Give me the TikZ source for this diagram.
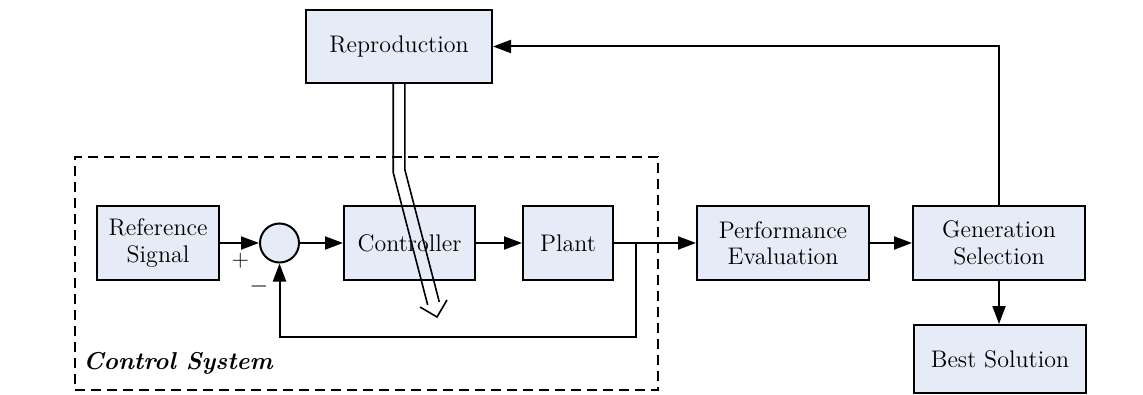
\documentclass[tikz,border=0pt]{standalone}
\usetikzlibrary{arrows.meta}
\definecolor{boxfill}{RGB}{230,236,247}
\begin{document}
\begin{tikzpicture}[x=0.5pt,y=-0.5pt,
  blk/.style={draw=black, line width=1pt, fill=boxfill, rectangle, inner sep=0pt, align=center, font=\fontsize{12}{13.2}\selectfont},
  sumc/.style={draw=black, line width=1pt, fill=boxfill, circle, inner sep=0pt, minimum size=19.5pt},
  arr/.style={line width=1pt, -{Triangle[length=9pt,width=6.5pt]}},
  ln/.style={line width=1pt},
  dbl/.style={line width=0.8pt, line join=miter},
  sign/.style={inner sep=0pt, font=\fontsize{11.5}{13}\selectfont},
  frame/.style={draw=black, line width=1pt, dash pattern=on 5pt off 3pt, rectangle, inner sep=0pt}]
\useasboundingbox (0,0) rectangle (1143,395);

% control system frame
\node[frame, minimum width=291.5pt, minimum height=116.5pt] (cs) at (366.5,273.5) {};
\node[anchor=base west, inner sep=0pt, font=\fontsize{12.2}{13}\selectfont\bfseries\itshape] (cslabel) at (83,369) {Control System};

% blocks
\node[blk, minimum width=93pt, minimum height=36.5pt] (repro) at (399,46.5) {Reproduction};
\node[blk, minimum width=61pt, minimum height=37pt] (ref) at (158,243) {Reference\\Signal};
\node[sumc] (sum) at (279.5,243) {};
\node[blk, minimum width=65.5pt, minimum height=37pt] (ctrl) at (409.5,243) {Controller};
\node[blk, minimum width=45pt, minimum height=37pt] (plant) at (568,243) {Plant};
\node[blk, minimum width=86pt, minimum height=37pt] (perf) at (783,243) {Performance\\Evaluation};
\node[blk, minimum width=86pt, minimum height=37pt] (gen) at (999,243) {Generation\\Selection};
\node[blk, minimum width=86pt, minimum height=34pt] (best) at (1000,359) {Best Solution};

% signs
\node[sign] (plus) at (240.5,260.5) {+};
\node[sign] (minus) at (259,286) {$-$};

% connectors
\draw[arr] (ref.east) -- (sum.west);
\draw[arr] (sum.east) -- (ctrl.west);
\draw[arr] (ctrl.east) -- (plant.west);
\draw[arr] (plant.east) -- (perf.west);
\coordinate (fb) at (636,243);
\coordinate (fbb) at (636,337);
\draw[arr] (fb) -- (fbb) -| (sum.south);
\draw[arr] (perf.east) -- (gen.west);
\draw[arr] (gen.south) -- (gen.south |- best.north);
\draw[arr] (gen.north) |- (repro.east);

% double (hollow) arrow from Reproduction down into the loop
\coordinate (dl0) at (393.2,83);
\coordinate (dl1) at (393.2,172.5);
\coordinate (dl2) at (427.7,305.0);
\coordinate (dr0) at (404.8,83);
\coordinate (dr1) at (404.8,169.5);
\coordinate (dr2) at (439.3,302.0);
\coordinate (hw1) at (420.0,307.0);
\coordinate (tip) at (437,317);
\coordinate (hw2) at (447.0,300.0);
\draw[dbl] (dl0) -- (dl1) -- (dl2);
\draw[dbl] (dr0) -- (dr1) -- (dr2);
\draw[dbl] (hw1) -- (tip) -- (hw2);
\end{tikzpicture}
\end{document}
